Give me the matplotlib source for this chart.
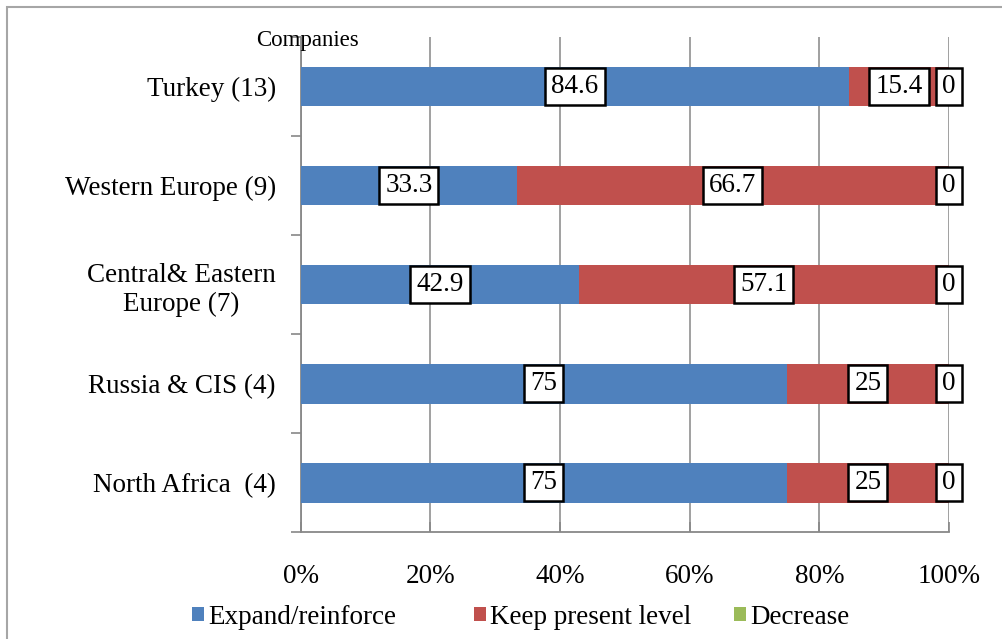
import matplotlib.pyplot as plt
import numpy as np
from matplotlib.patches import Rectangle

regions = ["Turkey (13)", "Western Europe (9)", "Central& Eastern\nEurope (7)",
           "Russia & CIS (4)", "North Africa  (4)"]
expand = [84.6, 33.3, 42.9, 75, 75]
keep = [15.4, 66.7, 57.1, 25, 25]
decrease = [0, 0, 0, 0, 0]
series_names = ["Expand/reinforce", "Keep present level", "Decrease"]
colors = ["#4F81BD", "#C0504D", "#9BBB59"]
xticks = [0, 20, 40, 60, 80, 100]

plt.rcParams['font.family'] = ['Liberation Serif', 'DejaVu Serif']
FS = 19.5

fig = plt.figure(figsize=(10.03, 6.39), dpi=100)
ax = fig.add_axes([0.300, 0.167, 0.646, 0.775])

# frame around the whole chart
fig.patches.append(Rectangle((7 / 1003, -0.1), 1.2, 1 - 7 / 639 + 0.1,
                             transform=fig.transFigure, fill=False,
                             edgecolor='#a6a6a6', linewidth=1.5))

y = np.arange(len(regions))
box = dict(boxstyle='square,pad=0.22', fc='white', ec='black', lw=1.8)
left = np.zeros(len(regions))
handles = []
for vals, name, c in zip([expand, keep, decrease], series_names, colors):
    vals = np.array(vals, dtype=float)
    h = ax.barh(y, vals, left=left, height=0.4, color=c, label=name, zorder=3)
    handles.append(h)
    if name != "Decrease":
        for yi, l, v in zip(y, left, vals):
            ax.text(l + v / 2, yi, f"{v:g}", ha='center', va='center',
                    fontsize=FS, zorder=5, bbox=box)
    left += vals

# zero labels for "Decrease" at the bar end
for yi, l, v in zip(y, left, decrease):
    ax.text(l, yi, f"{v:g}", ha='center', va='center', fontsize=FS, zorder=5,
            bbox=box)

ax.set_xlim(0, 100)
ax.set_ylim(len(regions) - 0.5, -0.5)
ax.set_xticks(xticks)
ax.set_xticklabels([f"{t}%" for t in xticks], fontsize=FS)
ax.set_yticks(y)
ax.set_yticklabels(regions, fontsize=FS, multialignment='center')
ax.tick_params(axis='y', length=0, pad=18)
ax.set_yticks(np.arange(-0.5, len(regions), 1), minor=True)
ax.tick_params(axis='y', which='minor', length=7, color='#888888', width=1.2)
ax.tick_params(axis='x', length=7, color='#888888', width=1.2, direction='in', pad=23)

ax.grid(axis='x', color='#999999', linewidth=1.3, zorder=0)
for s in ['top', 'right']:
    ax.spines[s].set_visible(False)
for s in ['left', 'bottom']:
    ax.spines[s].set_color('#888888')
    ax.spines[s].set_linewidth(1.3)

ax.text(0.01, 0.994, "Companies", transform=ax.transAxes, fontsize=16.5,
        ha='center', va='center')

# legend entries placed one by one (uneven spacing like the original)
for h, name, xpx in zip(handles, series_names, [192, 474, 734]):
    fig.legend([h], [name], loc='center left',
               bbox_to_anchor=(xpx / 1003, 1 - 617 / 639), frameon=False,
               fontsize=FS, handlelength=0.45, handleheight=0.45,
               handletextpad=0.15, borderpad=0, borderaxespad=0)

fig.savefig("out.png", dpi=100)
